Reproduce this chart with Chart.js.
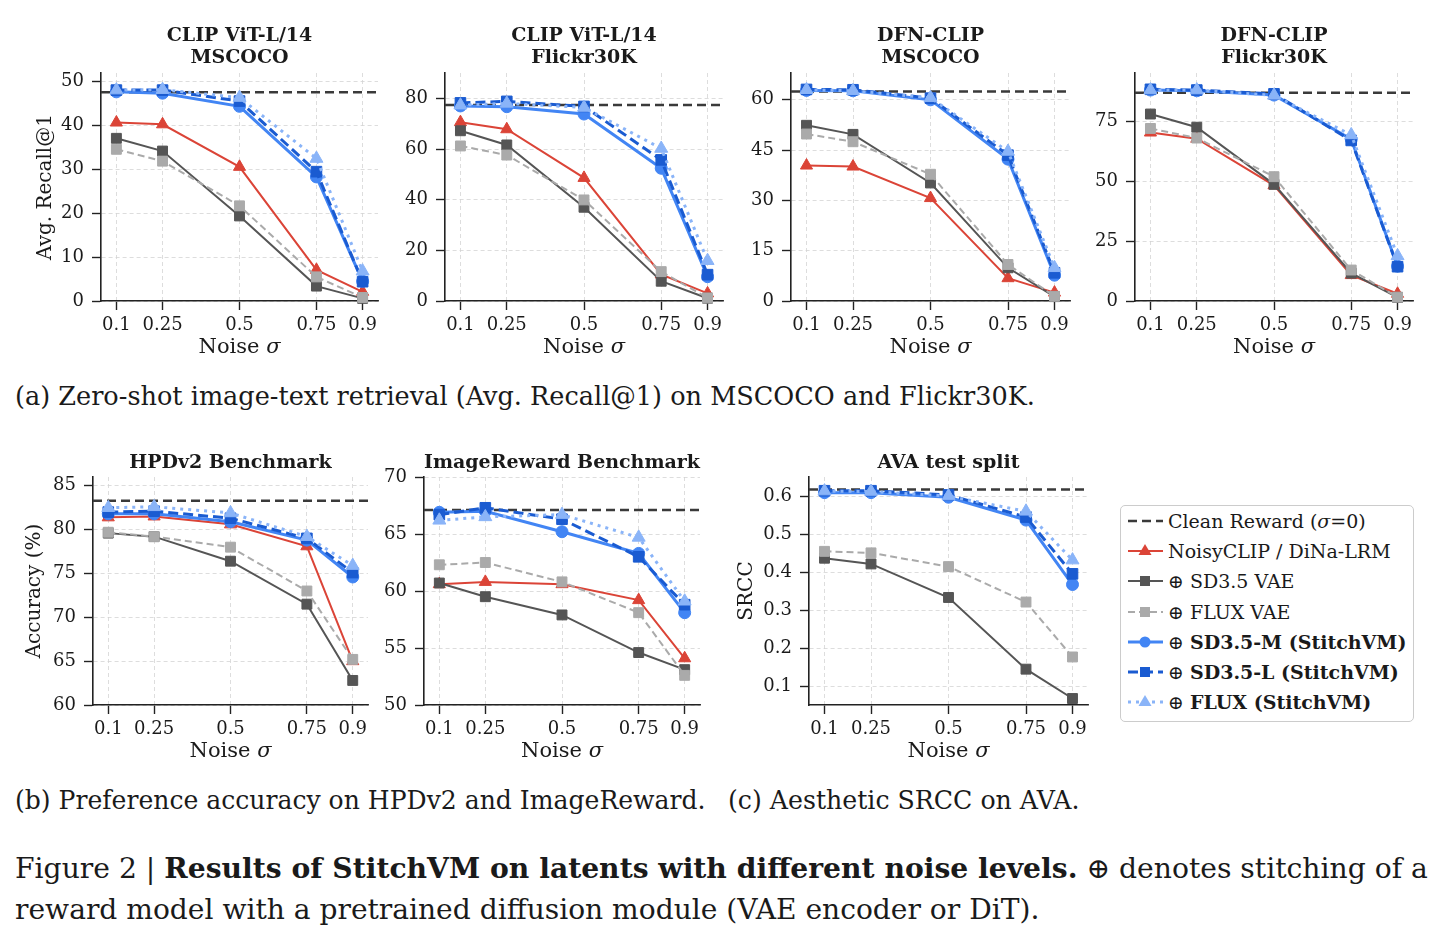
<!DOCTYPE html>
<html>
<head>
<meta charset="utf-8">
<script src="https://cdn.jsdelivr.net/npm/chart.js@4/dist/chart.umd.min.js"></script>
<style>
  body { margin: 0; background: #fff; width: 1443px; height: 944px; position: relative; overflow: hidden;
         font-family: "DejaVu Serif", serif; color: #1a1a1a; }
  canvas.panel { position: absolute; }
  .cap { position: absolute; left: 15px; white-space: nowrap; font-size: 24px; line-height: 30px; }
  #legend { position: absolute; left: 1120px; top: 505px; width: 292px; height: 215px;
            border: 1.5px solid #cccccc; border-radius: 5px; font-size: 19px; }
  #legend .row { position: absolute; left: 0; height: 30px; line-height: 30px; white-space: nowrap; }
  #legend svg { position: absolute; left: 6px; top: 5px; }
  #legend span { position: absolute; left: 47px; }
</style>
</head>
<body>

<div class="cap" data-w="1020" style="top:381px">(a) Zero-shot image-text retrieval (Avg. Recall@1) on MSCOCO and Flickr30K.</div>
<div class="cap" data-w="691" style="top:786px">(b) Preference accuracy on HPDv2 and ImageReward.</div>
<div class="cap" data-w="352" style="top:786px;left:728px">(c) Aesthetic SRCC on AVA.</div>
<div class="cap" data-w="1413" style="top:854px">Figure 2 | <b>Results of StitchVM on latents with different noise levels.</b> ⊕ denotes stitching of a</div>
<div class="cap" data-w="1025" style="top:895px">reward model with a pretrained diffusion module (VAE encoder or DiT).</div>
<div id="legend"></div>

<script>
// noise levels (x) shared by every panel
const NOISE = [0.1, 0.25, 0.5, 0.75, 0.9];
const X_MIN = 0.05, X_MAX = 0.95;

const SERIES_NAMES = ["NoisyCLIP / DiNa-LRM", "SD3.5 VAE", "FLUX VAE",
                      "SD3.5-M (StitchVM)", "SD3.5-L (StitchVM)", "FLUX (StitchVM)"];
const CLEAN_NAME = "Clean Reward";

// rows follow SERIES_NAMES order
const CLIP_COCO = [
  [40.7, 40.3, 30.6, 7.1, 2.1],
  [37.1, 34.2, 19.4, 3.4, 0.6],
  [34.6, 31.9, 21.7, 5.5, 0.8],
  [47.7, 47.4, 44.4, 28.3, 4.5],
  [48.1, 48.1, 45.6, 29.5, 4.4],
  [48.1, 48.2, 46.4, 32.5, 6.8],
];
const CLIP_FLICKR = [
  [70.6, 67.8, 48.6, 10.5, 3.0],
  [67.2, 61.6, 37.0, 7.8, 1.1],
  [61.2, 57.6, 39.9, 11.6, 1.2],
  [77.0, 76.7, 73.8, 52.4, 9.6],
  [78.2, 78.8, 76.8, 55.7, 10.4],
  [77.3, 78.0, 76.4, 60.2, 15.9],
];
const DFN_COCO = [
  [40.4, 40.1, 30.7, 6.8, 2.5],
  [52.4, 49.7, 35.2, 9.9, 1.3],
  [49.8, 47.5, 37.8, 10.9, 1.4],
  [62.8, 62.7, 60.0, 42.3, 7.7],
  [63.1, 63.0, 60.5, 43.5, 8.4],
  [63.0, 62.7, 60.6, 44.6, 9.9],
];
const DFN_FLICKR = [
  [70.2, 67.6, 48.2, 10.8, 3.0],
  [77.9, 72.4, 48.6, 11.6, 1.5],
  [71.9, 67.9, 51.8, 12.9, 1.6],
  [87.9, 87.6, 85.8, 67.4, 14.5],
  [88.2, 87.9, 86.3, 66.9, 14.3],
  [87.9, 87.9, 85.7, 69.2, 18.8],
];
const HPD = [
  [81.4, 81.5, 80.6, 78.1, 65.0],
  [79.6, 79.2, 76.4, 71.5, 62.8],
  [79.7, 79.2, 78.0, 73.0, 65.2],
  [81.8, 81.8, 80.9, 78.8, 74.6],
  [82.0, 82.1, 81.3, 79.0, 75.1],
  [82.5, 82.6, 81.9, 79.2, 75.9],
];
const IMAGEREWARD = [
  [60.6, 60.8, 60.6, 59.2, 54.1],
  [60.7, 59.5, 57.9, 54.6, 53.1],
  [62.3, 62.5, 60.8, 58.1, 52.6],
  [66.9, 67.0, 65.2, 63.3, 58.1],
  [66.7, 67.3, 66.3, 63.0, 58.8],
  [66.2, 66.5, 66.7, 64.7, 59.1],
];
const AVA = [
  null,
  [0.437, 0.422, 0.334, 0.146, 0.069],
  [0.455, 0.451, 0.415, 0.322, 0.178],
  [0.609, 0.609, 0.597, 0.537, 0.368],
  [0.614, 0.614, 0.603, 0.545, 0.396],
  [0.613, 0.612, 0.600, 0.560, 0.432],
];

const PANEL_DATA = [CLIP_COCO, CLIP_FLICKR, DFN_COCO, DFN_FLICKR, HPD, IMAGEREWARD, AVA];
const CLEAN = [47.6, 77.4, 62.5, 86.8, 83.3, 67.1, 0.617];
const TITLES = [["CLIP ViT-L/14", "MSCOCO"], ["CLIP ViT-L/14", "Flickr30K"], ["DFN-CLIP", "MSCOCO"],
                ["DFN-CLIP", "Flickr30K"], ["HPDv2 Benchmark"], ["ImageReward Benchmark"], ["AVA test split"]];
const Y_TITLES = ["Avg. Recall@1", "", "", "", "Accuracy (%)", "", "SRCC"];
const Y_MIN = [0, 0, 0, 0, 60, 50, 0.052];
const Y_MAX = [52, 90, 68, 95, 86, 70, 0.65];
const Y_TICKS = [
  [0, 10, 20, 30, 40, 50],
  [0, 20, 40, 60, 80],
  [0, 15, 30, 45, 60],
  [0, 25, 50, 75],
  [60, 65, 70, 75, 80, 85],
  [50, 55, 60, 65, 70],
  [0.1, 0.2, 0.3, 0.4, 0.5, 0.6],
];

// layout: plot-area rectangles in page pixels
const PLOTS = [
  { l: 101, t: 73, r: 378, b: 301, yPad: 7 },
  { l: 445, t: 73, r: 723, b: 301, yPad: 0 },
  { l: 791, t: 73, r: 1070, b: 301, yPad: 0 },
  { l: 1135, t: 73, r: 1413, b: 301, yPad: 0 },
  { l: 93, t: 477, r: 368, b: 705, yPad: 4 },
  { l: 424, t: 477, r: 700, b: 705, yPad: 0 },
  { l: 809, t: 477, r: 1088, b: 705, yPad: 0 },
];
const Y_AXIS_W = 72, X_AXIS_H = 62, RIGHT_PAD = 20;

const FONT = '"DejaVu Serif", serif';
const INK = "#1a1a1a";
const STYLES = [
  { color: "#db4437", dash: [], width: 2, marker: "triangle", r: 7 },
  { color: "#555555", dash: [], width: 2, marker: "rect", r: 7 },
  { color: "#aaaaaa", dash: [7, 4], width: 2, marker: "rect", r: 7 },
  { color: "#4285f4", dash: [], width: 3, marker: "circle", r: 6 },
  { color: "#1a5bd1", dash: [10, 5], width: 3, marker: "rect", r: 7.5 },
  { color: "#8ab4f8", dash: [3, 5], width: 3, marker: "triangle", r: 7.5 },
];
const CLEAN_STYLE = { color: "#3a3a3a", dash: [9, 5], width: 2.5 };

Chart.defaults.font.family = FONT;
Chart.defaults.color = INK;

// x-axis title with an italic sigma
const noiseLabel = {
  id: "noiseLabel",
  afterDraw(chart) {
    const { ctx, chartArea } = chart;
    ctx.save();
    ctx.font = `21px ${FONT}`;
    const wa = ctx.measureText("Noise ").width;
    ctx.font = `italic 21px ${FONT}`;
    const wb = ctx.measureText("σ").width;
    const x = (chartArea.left + chartArea.right) / 2 - (wa + wb) / 2;
    const y = chartArea.bottom + 47;
    ctx.fillStyle = INK;
    ctx.textBaseline = "middle";
    ctx.font = `21px ${FONT}`;
    ctx.fillText("Noise ", x, y);
    ctx.font = `italic 21px ${FONT}`;
    ctx.fillText("σ", x + wa, y);
    ctx.restore();
  },
};

function axisCommon(pad) {
  return {
    border: { display: true, color: "#222", width: 1.6, dash: [4, 3] },
    grid: { color: "#d4d4d4", lineWidth: 0.8, drawTicks: true, tickLength: 9, tickColor: "#222", tickWidth: 1.4, tickBorderDash: [] },
    ticks: { color: INK, font: { size: 18 }, padding: pad, callback: (v) => String(v) },
  };
}

PANEL_DATA.forEach((rows, i) => {
  const p = PLOTS[i];
  const titleH = TITLES[i].length * 22 + (TITLES[i].length > 1 ? 4 : 3);
  const canvas = document.createElement("canvas");
  canvas.className = "panel";
  canvas.width = Y_AXIS_W + (p.r - p.l) + RIGHT_PAD;
  canvas.height = titleH + (p.b - p.t) + X_AXIS_H;
  canvas.style.left = p.l - Y_AXIS_W + "px";
  canvas.style.top = p.t - titleH + "px";
  document.body.appendChild(canvas);

  const datasets = [{
    data: [{ x: X_MIN, y: CLEAN[i] }, { x: X_MAX, y: CLEAN[i] }],
    borderColor: CLEAN_STYLE.color, borderWidth: CLEAN_STYLE.width, borderDash: CLEAN_STYLE.dash,
    pointRadius: 0, order: 10, clip: false,
  }];
  rows.forEach((vals, k) => {
    if (!vals) return;
    const s = STYLES[k];
    datasets.push({
      label: SERIES_NAMES[k],
      data: NOISE.map((x, j) => ({ x, y: vals[j] })),
      borderColor: s.color, backgroundColor: s.color, borderWidth: s.width, borderDash: s.dash,
      pointStyle: s.marker, pointRadius: s.r, pointBorderWidth: 1,
      pointBackgroundColor: s.color, pointBorderColor: s.color,
      order: 6 - k, clip: false, tension: 0,
    });
  });

  new Chart(canvas, {
    type: "line",
    data: { datasets },
    plugins: [noiseLabel],
    options: {
      responsive: false,
      devicePixelRatio: 1,
      animation: false,
      events: [],
      layout: { padding: { left: 0, top: 0, right: RIGHT_PAD, bottom: 0 } },
      plugins: {
        legend: { display: false },
        tooltip: { enabled: false },
        title: {
          display: true, fullSize: false, text: TITLES[i], color: INK,
          font: { size: 19, weight: "bold", lineHeight: 22 / 19 },
          padding: { top: 0, bottom: TITLES[i].length > 1 ? 4 : 3 },
        },
      },
      scales: {
        x: {
          type: "linear", min: X_MIN, max: X_MAX, ...axisCommon(5),
          afterBuildTicks: (s) => { s.ticks = NOISE.map((v) => ({ value: v })); },
          afterFit: (s) => { s.height = X_AXIS_H; },
        },
        y: {
          type: "linear", min: Y_MIN[i], max: Y_MAX[i], ...axisCommon(8),
          title: {
            display: !!Y_TITLES[i], text: Y_TITLES[i], color: INK,
            font: { size: 20, lineHeight: 1 }, padding: { top: p.yPad, bottom: 0 },
          },
          afterBuildTicks: (s) => { s.ticks = Y_TICKS[i].map((v) => ({ value: v })); },
          afterFit: (s) => { s.width = Y_AXIS_W; },
        },
      },
    },
  });
});

// legend, built from the same names and styles
const legend = document.getElementById("legend");
function sampleSvg(s, isClean) {
  const dash = s.dash.length ? `stroke-dasharray="${s.dash.join(" ")}"` : "";
  let marker = "";
  if (!isClean) {
    if (s.marker === "circle") marker = `<circle cx="18" cy="10" r="5.5" fill="${s.color}"/>`;
    else if (s.marker === "rect") marker = `<rect x="13" y="5" width="10" height="10" fill="${s.color}"/>`;
    else marker = `<polygon points="18,3 24.5,14 11.5,14" fill="${s.color}"/>`;
  }
  return `<svg width="38" height="20"><line x1="1" y1="10" x2="36" y2="10" stroke="${s.color}" stroke-width="${s.width}" ${dash}/>${marker}</svg>`;
}
const rowsHtml = [];
rowsHtml.push(`<div class="row" style="top:0px">${sampleSvg(CLEAN_STYLE, true)}<span>${CLEAN_NAME} (<i>σ</i>=0)</span></div>`);
SERIES_NAMES.forEach((name, k) => {
  const top = (k + 1) * 30.2;
  let text = name;
  if (k > 0) text = "⊕ " + (name.includes("StitchVM") ? `<b>${name}</b>` : name);
  rowsHtml.push(`<div class="row" style="top:${top}px">${sampleSvg(STYLES[k], false)}<span>${text}</span></div>`);
});
legend.innerHTML = rowsHtml.join("");

// size each caption line to the width it takes in the figure
document.querySelectorAll(".cap").forEach((el) => {
  const target = +el.dataset.w;
  const w = el.scrollWidth;
  el.style.fontSize = (24 * target / w).toFixed(2) + "px";
});
</script>
</body>
</html>
